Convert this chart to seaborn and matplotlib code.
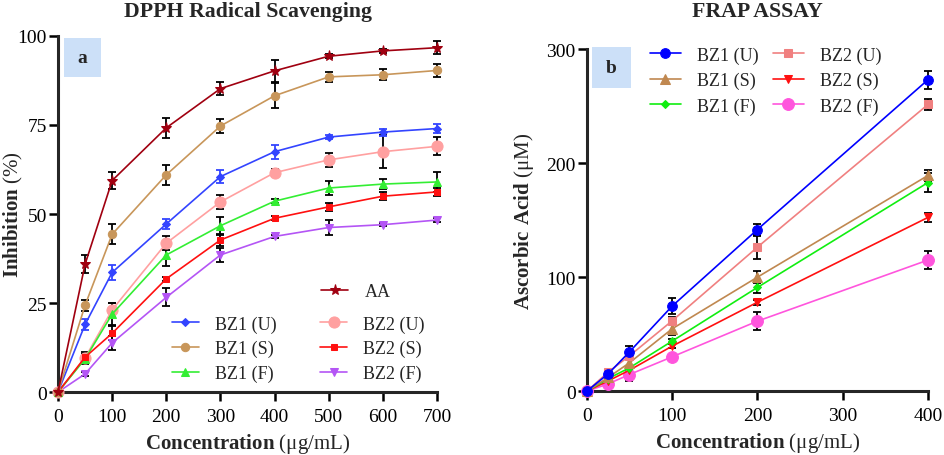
import numpy as np
import pandas as pd
import seaborn as sns
import matplotlib.pyplot as plt
from matplotlib.patches import Rectangle

sns.set_theme(style="ticks")
plt.rcParams['font.family'] = ['Liberation Serif', 'DejaVu Serif']
plt.rcParams['mathtext.fontset'] = 'custom'
plt.rcParams['mathtext.rm'] = 'Liberation Serif'
plt.rcParams['mathtext.bf'] = 'Liberation Serif:bold'

# ---- DPPH data (a)
dpph_conc = [0, 50, 100, 200, 300, 400, 500, 600, 700]
dpph_aa = [0, 35.9, 59.4, 74.2, 85.2, 90.2, 94.3, 95.8, 96.7]
dpph_bz1_u = [0, 19.0, 33.6, 47.2, 60.5, 67.5, 71.6, 73.0, 74.0]
dpph_bz1_s = [0, 24.4, 44.3, 61.0, 74.7, 83.2, 88.5, 89.1, 90.3]
dpph_bz1_f = [0, 9.3, 21.9, 38.5, 46.7, 53.6, 57.3, 58.4, 59.0]
dpph_bz2_u = [0, 9.6, 23.1, 41.8, 53.4, 61.6, 65.2, 67.5, 69.0]
dpph_bz2_s = [0, 9.8, 16.5, 31.8, 42.7, 48.8, 52.0, 55.0, 56.2]
dpph_bz2_f = [0, 5.1, 13.8, 26.6, 38.5, 43.7, 46.2, 47.0, 48.3]

dpph_aa_sd = [0, 2.5, 2.5, 2.8, 1.8, 3.0, 0.5, 0.5, 1.8]
dpph_bz1_u_sd = [0, 1.5, 2.0, 1.5, 1.8, 2.0, 0.5, 1.0, 1.2]
dpph_bz1_s_sd = [0, 1.5, 2.8, 2.8, 2.0, 3.5, 1.5, 1.5, 1.8]
dpph_bz1_f_sd = [0, 1.5, 3.0, 3.0, 2.5, 0.5, 2.0, 1.5, 2.8]
dpph_bz2_u_sd = [0, 1.0, 2.0, 2.0, 2.0, 1.0, 2.0, 4.7, 2.5]
dpph_bz2_s_sd = [0, 1.5, 2.0, 0.5, 1.8, 0.5, 1.2, 1.2, 1.2]
dpph_bz2_f_sd = [0, 0.5, 2.0, 2.5, 2.0, 0.5, 2.0, 0.5, 0.5]

# ---- FRAP data (b)
frap_conc = [0, 25, 50, 100, 200, 400]
frap_bz1_u = [0, 15.2, 34.5, 74.6, 141.8, 273.2]
frap_bz1_s = [0, 12.0, 24.9, 54.7, 100.0, 189.2]
frap_bz1_f = [0, 11.0, 20.5, 43.9, 91.0, 183.0]
frap_bz2_u = [0, 16.7, 31.0, 61.7, 126.3, 251.5]
frap_bz2_s = [0, 9.0, 18.4, 39.5, 78.0, 152.4]
frap_bz2_f = [0, 6.4, 14.6, 30.1, 61.4, 115.0]

frap_bz1_u_sd = [0, 1, 5, 7, 5, 8]
frap_bz1_s_sd = [0, 1, 3, 5, 5, 5]
frap_bz1_f_sd = [0, 1, 2, 2, 5, 8]
frap_bz2_u_sd = [0, 1, 2, 3, 10, 5]
frap_bz2_s_sd = [0, 1, 2, 2, 2, 4]
frap_bz2_f_sd = [0, 1, 6, 2, 8, 8]

fig = plt.figure(figsize=(9.45, 4.56), dpi=100)
ax1 = fig.add_axes([0.0614, 0.138, 0.401, 0.781])
ax2 = fig.add_axes([0.621, 0.140, 0.361, 0.750])


def draw(ax, x, y, sd, label, color, marker, ms, ecolor="black"):
    ax.errorbar(x, y, yerr=sd, fmt="none", ecolor=ecolor, elinewidth=1.3,
                capsize=3, capthick=1.3, zorder=2, clip_on=False)
    sns.lineplot(x=x, y=y, ax=ax, color=color, marker=marker, markersize=ms,
                 markeredgecolor=color, linewidth=1.2, label=label,
                 errorbar=None, clip_on=False, zorder=3)


# panel a
draw(ax1, dpph_conc, dpph_bz2_f, dpph_bz2_f_sd, "BZ2 (F)", "#B455F5", "v", 6)
draw(ax1, dpph_conc, dpph_bz2_u, dpph_bz2_u_sd, "BZ2 (U)", "#FFA0A0", "o", 8)
draw(ax1, dpph_conc, dpph_bz1_f, dpph_bz1_f_sd, "BZ1 (F)", "#33EE33", "^", 6)
draw(ax1, dpph_conc, dpph_bz2_s, dpph_bz2_s_sd, "BZ2 (S)", "#FF1010", "s", 5)
draw(ax1, dpph_conc, dpph_bz1_u, dpph_bz1_u_sd, "BZ1 (U)", "#3344FF", "D", 4.5, ecolor="#3344FF")
draw(ax1, dpph_conc, dpph_bz1_s, dpph_bz1_s_sd, "BZ1 (S)", "#C8965A", "o", 6)
draw(ax1, dpph_conc, dpph_aa, dpph_aa_sd, "AA", "#A00010", "*", 8)

# panel b
draw(ax2, frap_conc, frap_bz2_f, frap_bz2_f_sd, "BZ2 (F)", "#FF55DD", "o", 8.5)
draw(ax2, frap_conc, frap_bz2_s, frap_bz2_s_sd, "BZ2 (S)", "#FF1010", "v", 6)
draw(ax2, frap_conc, frap_bz1_f, frap_bz1_f_sd, "BZ1 (F)", "#11EE11", "D", 4.5)
draw(ax2, frap_conc, frap_bz1_s, frap_bz1_s_sd, "BZ1 (S)", "#C08850", "^", 6.5)
draw(ax2, frap_conc, frap_bz2_u, frap_bz2_u_sd, "BZ2 (U)", "#F08080", "s", 6)
draw(ax2, frap_conc, frap_bz1_u, frap_bz1_u_sd, "BZ1 (U)", "#0000FF", "o", 7)

for ax in (ax1, ax2):
    for side in ("left", "bottom"):
        ax.spines[side].set_linewidth(2.2)
    sns.despine(ax=ax)
    ax.tick_params(axis="both", labelsize=14, width=1.8, length=6.5,
                   direction="out", color="black", labelcolor="black")
    ax.tick_params(axis="x", pad=5)
    ax.tick_params(axis="y", pad=1.5)

ax1.set_xlim(0, 700)
ax1.set_ylim(0, 100)
ax1.set_xticks(range(0, 701, 100))
ax1.set_yticks([0, 25, 50, 75, 100])
ax2.set_xlim(0, 400)
ax2.set_ylim(0, 300)
ax2.set_xticks(range(0, 401, 100))
ax2.set_yticks([0, 100, 200, 300])

ax1.set_xlabel(r"$\mathbf{Concentration}$ (μg/mL)", fontsize=15, labelpad=4)
ax1.set_ylabel(r"$\mathbf{Inhibition}$ (%)", fontsize=15)
ax1.yaxis.set_label_coords(-0.088, 0.5)
ax2.set_xlabel(r"$\mathbf{Concentration}$ (μg/mL)", fontsize=15, labelpad=4)
ax2.set_ylabel(r"$\mathbf{Ascorbic\ Acid}$ (μM)", fontsize=15)
ax2.yaxis.set_label_coords(-0.150, 0.5)

fig.text(0.262, 0.995, "DPPH Radical Scavenging", fontsize=15.7, fontweight="bold",
         ha="center", va="top")
fig.text(0.801, 0.995, "FRAP ASSAY", fontsize=15.7, fontweight="bold",
         ha="center", va="top")

# panel tags
ax1.add_patch(Rectangle((0.016, 0.885), 0.097, 0.109, transform=ax1.transAxes,
                        facecolor="#CCE0F8", edgecolor="none", clip_on=False))
ax1.text(0.0645, 0.94, "a", transform=ax1.transAxes, fontsize=14,
         fontweight="bold", ha="center", va="center")
ax2.add_patch(Rectangle((0.015, 0.886), 0.114, 0.120, transform=ax2.transAxes,
                        facecolor="#CCE0F8", edgecolor="none", clip_on=False))
ax2.text(0.072, 0.946, "b", transform=ax2.transAxes, fontsize=14,
         fontweight="bold", ha="center", va="center")

# legends
h1, l1 = ax1.get_legend_handles_labels()
d1 = dict(zip(l1, h1))
order1 = ["BZ1 (U)", "BZ1 (S)", "BZ1 (F)", "BZ2 (U)", "BZ2 (S)", "BZ2 (F)"]
leg_a = ax1.legend([d1[k] for k in order1], order1, ncol=2,
                   loc="upper left", bbox_to_anchor=(0.30, 0.215), frameon=False,
                   fontsize=13, handlelength=1.5, handletextpad=0.9,
                   columnspacing=2.4, labelspacing=0.4, borderpad=0, borderaxespad=0)
ax1.add_artist(leg_a)
ax1.legend([d1["AA"]], ["AA"], loc="upper left", bbox_to_anchor=(0.694, 0.305),
           frameon=False, fontsize=13, handlelength=1.5, handletextpad=0.9,
           borderpad=0, borderaxespad=0)

h2, l2 = ax2.get_legend_handles_labels()
d2 = dict(zip(l2, h2))
order2 = ["BZ1 (U)", "BZ1 (S)", "BZ1 (F)", "BZ2 (U)", "BZ2 (S)", "BZ2 (F)"]
ax2.legend([d2[k] for k in order2], order2, ncol=2,
           loc="upper left", bbox_to_anchor=(0.185, 1.008), frameon=False,
           fontsize=13, handlelength=1.7, handletextpad=0.9,
           columnspacing=0.8, labelspacing=0.45, borderpad=0, borderaxespad=0)

fig.savefig("out.png", dpi=100)
